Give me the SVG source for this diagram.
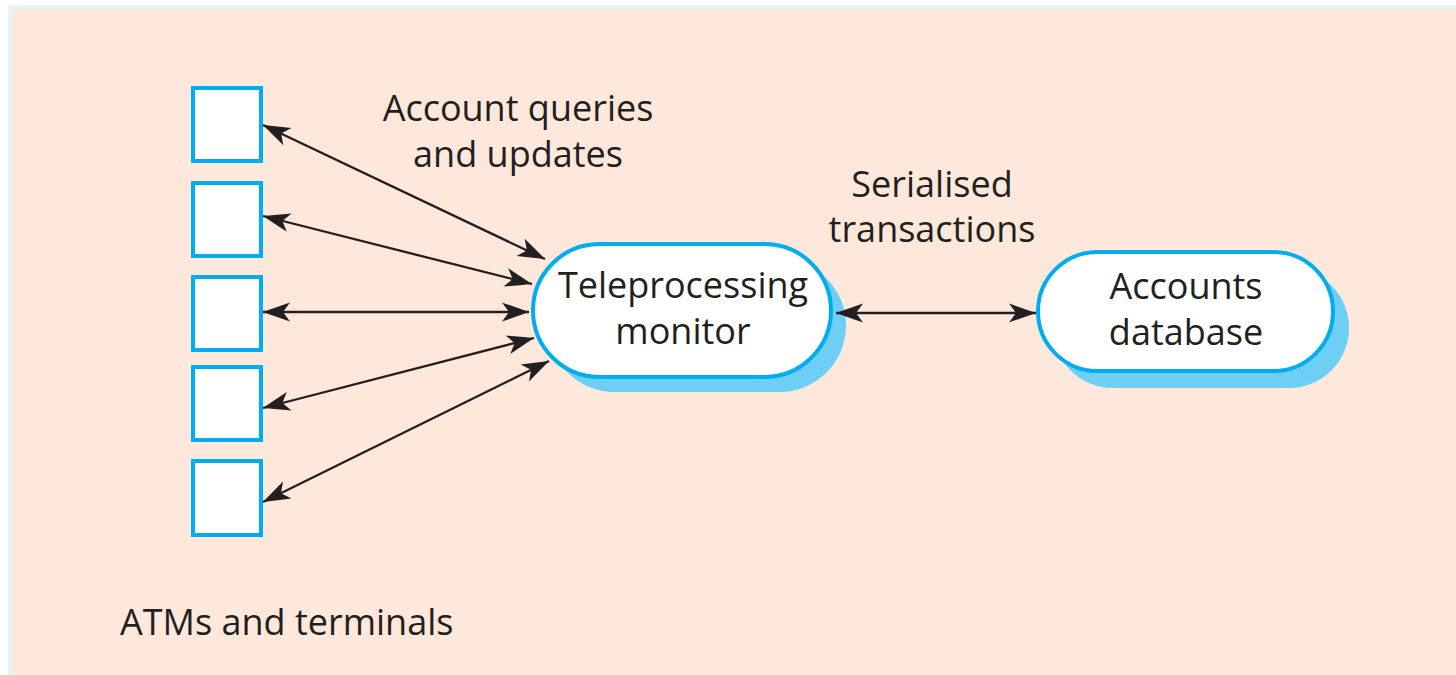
<svg xmlns="http://www.w3.org/2000/svg" width="1456" height="675" viewBox="0 0 1456 675">
  <style>
    .term { fill: #ffffff; stroke: #00aeef; stroke-width: 4; }
    .proc { fill: #ffffff; stroke: #00aeef; stroke-width: 4; }
    .shadow { fill: #6dcff6; stroke: none; }
    .label { font-family: "Open Sans", "Noto Sans", "Liberation Sans", sans-serif; font-size: 36px; font-weight: 500; fill: #231f20; }
    .link { stroke: #231f20; stroke-width: 2.3; fill: none; marker-start: url(#head); marker-end: url(#head); }
  </style>
  <defs>
    <!-- barbed arrowhead used at both ends of every connector -->
    <marker id="head" markerUnits="userSpaceOnUse" viewBox="-30 -11 32 22" refX="0" refY="0" markerWidth="32" markerHeight="22" orient="auto-start-reverse">
      <path d="M0,0 Q-14,-5 -27,-9.5 L-20,0 L-27,9.5 Q-14,5 0,0 Z" fill="#231f20"/>
    </marker>
  </defs>

  <!-- page -->
  <rect x="0" y="0" width="1456" height="675" fill="#ffffff"/>
  <rect x="8" y="5" width="1448" height="670" fill="#dcfafd"/>
  <rect x="11" y="8" width="1445" height="667" fill="#fde8db"/>

  <!-- ATMs and terminals -->
  <g id="terminal-1"><rect class="term" x="193" y="88" width="68" height="73"/></g>
  <g id="terminal-2"><rect class="term" x="193" y="183" width="68" height="73"/></g>
  <g id="terminal-3"><rect class="term" x="193" y="277" width="68" height="73"/></g>
  <g id="terminal-4"><rect class="term" x="193" y="367" width="68" height="73"/></g>
  <g id="terminal-5"><rect class="term" x="193" y="461" width="68" height="74"/></g>
  <g id="terminals-label">
    <text class="label" x="120" y="635">ATMs and terminals</text>
  </g>

  <!-- Teleprocessing monitor -->
  <g id="monitor">
    <rect class="shadow" x="548" y="259" width="298" height="133" rx="66.5"/>
    <rect class="proc" x="533" y="244" width="298" height="133" rx="66.5"/>
    <text class="label" x="683" y="298" text-anchor="middle">Teleprocessing</text>
    <text class="label" x="683" y="344" text-anchor="middle">monitor</text>
  </g>

  <!-- Accounts database -->
  <g id="database">
    <rect class="shadow" x="1053" y="268" width="296" height="120" rx="60"/>
    <rect class="proc" x="1038" y="252" width="295" height="119" rx="59.5"/>
    <text class="label" x="1186" y="299" text-anchor="middle">Accounts</text>
    <text class="label" x="1186" y="345" text-anchor="middle">database</text>
  </g>

  <!-- connector labels -->
  <g id="labels">
    <text class="label" x="518" y="121" text-anchor="middle">Account queries</text>
    <text class="label" x="518" y="167" text-anchor="middle">and updates</text>
    <text class="label" x="932" y="197" text-anchor="middle">Serialised</text>
    <text class="label" x="932" y="242" text-anchor="middle">transactions</text>
  </g>

  <!-- connectors -->
  <g id="connectors">
    <line class="link" x1="263" y1="125" x2="545" y2="259"/>
    <line class="link" x1="263" y1="216" x2="532" y2="284"/>
    <line class="link" x1="263" y1="312" x2="529" y2="312"/>
    <line class="link" x1="263" y1="408" x2="534" y2="338"/>
    <line class="link" x1="263" y1="502" x2="549" y2="361"/>
    <line class="link" x1="836" y1="313" x2="1036" y2="313"/>
  </g>
</svg>
